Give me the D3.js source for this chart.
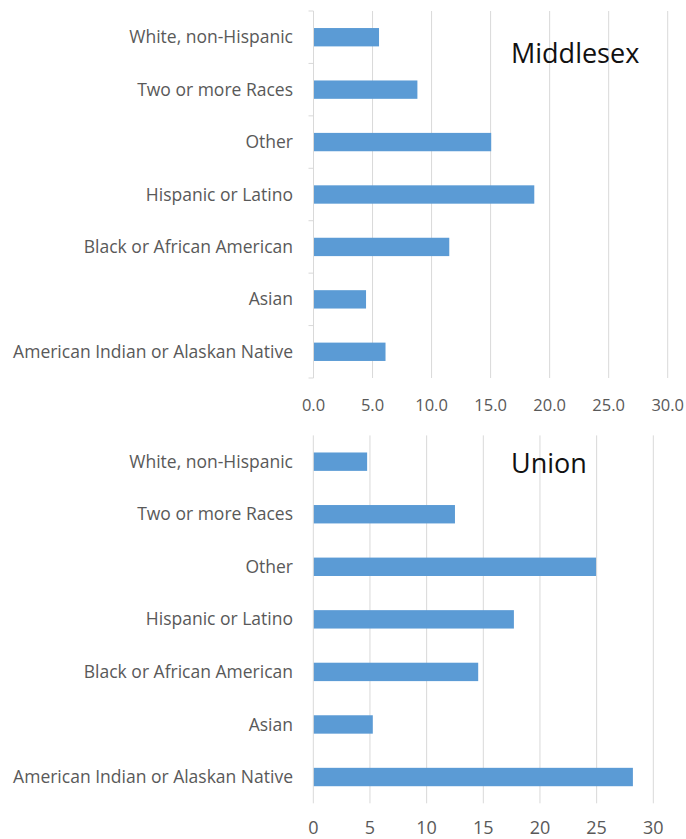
<!DOCTYPE html>
<html>
<head>
<meta charset="utf-8">
<script src="https://cdn.jsdelivr.net/npm/d3@7"></script>
<style>
  html, body { margin: 0; padding: 0; background: #ffffff; }
  svg { display: block; }
  text { font-family: "Open Sans", "Noto Sans", sans-serif; }
</style>
</head>
<body>
<svg id="chart" width="686" height="839"></svg>
<script>
// Race / ethnicity categories, listed top to bottom
const categories = [
  "White, non-Hispanic",
  "Two or more Races",
  "Other",
  "Hispanic or Latino",
  "Black or African American",
  "Asian",
  "American Indian or Alaskan Native"
];

// County values
const middlesexValues = [5.55, 8.8, 15.05, 18.7, 11.5, 4.45, 6.1];
const unionValues = [4.75, 12.5, 24.95, 17.7, 14.55, 5.25, 28.2];

// Axis tick values and labels
const xTicks = [0, 5, 10, 15, 20, 25, 30];
const middlesexTickLabels = ["0.0", "5.0", "10.0", "15.0", "20.0", "25.0", "30.0"];
const unionTickLabels = ["0", "5", "10", "15", "20", "25", "30"];

const barColor = "#5b9bd5";
const gridColor = "#d9d9d9";
const textColor = "#595959";

const svg = d3.select("#chart");

function drawPanel(opts) {
  const g = svg.append("g");
  const x = d3.scaleLinear().domain([0, 30]).range([opts.x0, opts.x1]);
  const y = d3.scaleBand().domain(categories)
    .range([opts.y0, opts.y1])
    .paddingInner(0.65).paddingOuter(0.325);

  // vertical gridlines
  g.selectAll("line.grid").data(xTicks.slice(1)).join("line")
    .attr("class", "grid")
    .attr("x1", d => x(d)).attr("x2", d => x(d))
    .attr("y1", opts.y0).attr("y2", opts.y1)
    .attr("stroke", gridColor).attr("stroke-width", 1);

  // bars
  g.selectAll("rect.bar").data(categories).join("rect")
    .attr("class", "bar")
    .attr("x", x(0))
    .attr("y", d => y(d))
    .attr("width", (d, i) => x(opts.values[i]) - x(0))
    .attr("height", y.bandwidth())
    .attr("fill", barColor);

  // category axis line
  g.append("line")
    .attr("x1", x(0)).attr("x2", x(0))
    .attr("y1", opts.y0).attr("y2", opts.y1)
    .attr("stroke", gridColor).attr("stroke-width", 1);

  // category boundary tick marks
  if (opts.catTicks) {
    const bounds = categories.map(c => y(c) - y.step() * y.paddingInner() / 2);
    bounds.push(opts.y1);
    g.selectAll("line.ctick").data(bounds).join("line")
      .attr("class", "ctick")
      .attr("x1", x(0) - 5).attr("x2", x(0))
      .attr("y1", d => d).attr("y2", d => d)
      .attr("stroke", gridColor).attr("stroke-width", 1);
  }

  // category labels
  g.selectAll("text.cat").data(categories).join("text")
    .attr("class", "cat")
    .attr("x", opts.labelRight)
    .attr("y", d => y(d) + y.bandwidth() / 2)
    .attr("dy", "0.35em")
    .attr("text-anchor", "end")
    .attr("font-size", 17.5)
    .attr("fill", textColor)
    .text(d => d);

  // value axis labels (y is the text baseline)
  g.selectAll("text.tick").data(xTicks).join("text")
    .attr("class", "tick")
    .attr("x", d => x(d))
    .attr("y", opts.tickBaseline)
    .attr("text-anchor", "middle")
    .attr("font-size", opts.tickSize)
    .attr("fill", textColor)
    .text((d, i) => opts.tickLabels[i]);

  // county title
  g.append("text")
    .attr("x", opts.titleX)
    .attr("y", opts.titleY)
    .attr("font-size", 27)
    .attr("fill", "#111111")
    .text(opts.title);
}

drawPanel({
  title: "Middlesex",
  values: middlesexValues,
  tickLabels: middlesexTickLabels,
  x0: 313.5, x1: 667.7,
  y0: 11, y1: 378,
  labelRight: 293,
  tickBaseline: 411, tickSize: 16.5,
  catTicks: true,
  titleX: 511, titleY: 63
});

drawPanel({
  title: "Union",
  values: unionValues,
  tickLabels: unionTickLabels,
  x0: 313.3, x1: 653.3,
  y0: 435.4, y1: 803.3,
  labelRight: 293,
  tickBaseline: 833.5, tickSize: 18,
  catTicks: false,
  titleX: 511, titleY: 473
});
</script>
</body>
</html>
